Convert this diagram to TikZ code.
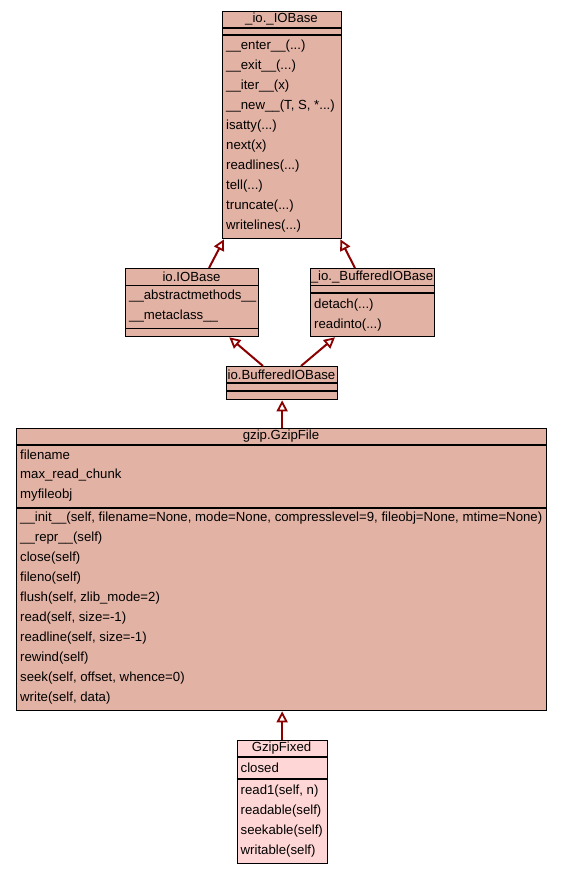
\documentclass[tikz,border=0pt]{standalone}
\usepackage{fontspec}
\setmainfont{Liberation Sans}
\usetikzlibrary{arrows.meta,calc}
\definecolor{clsfill}{RGB}{226,178,164}
\definecolor{fixfill}{RGB}{255,214,214}
\definecolor{arrowred}{RGB}{139,0,0}
\newcommand\mydots{...}
\begin{document}
\begin{tikzpicture}[x=1pt,y=-1pt,
  box/.style={draw=black, line width=1.3pt, fill=clsfill, inner sep=0, anchor=north west},
  txt/.style={anchor=west, inner sep=0, font=\fontsize{13.2}{15}\selectfont},
  ttl/.style={inner sep=0, font=\fontsize{13.2}{15}\selectfont},
  sep/.style={line width=1.3pt},
  inh/.style={draw=arrowred, line width=2pt, -{Triangle[open, length=11pt, width=11pt, line width=1.8pt]}}]
\useasboundingbox (0,0) rectangle (561,873);
\fill[white] (0,0) rectangle (561,873);
% _io._IOBase
\node[box, minimum width=119pt, minimum height=227pt] (iob) at (222,11) {};
\draw[sep] (222,28) -- (341,28);
\draw[sep] (222,35) -- (341,35);
\node[ttl] (iobt) at (281.5,19.5) {\_io.\_IOBase};
\foreach \t [count=\i] in {{\_\_enter\_\_(\mydots)}, {\_\_exit\_\_(\mydots)}, {\_\_iter\_\_(x)}, {\_\_new\_\_(T, S, *\mydots)}, {isatty(\mydots)}, {next(x)}, {readlines(\mydots)}, {tell(\mydots)}, {truncate(\mydots)}, {writelines(\mydots)}}
  \node[txt] (iobm\i) at (226,26+20*\i) {\t};
% io.IOBase
\node[box, minimum width=133pt, minimum height=68pt] (ioi) at (125,268) {};
\draw[sep] (125,285.5) -- (258,285.5);
\draw[sep] (125,328.5) -- (258,328.5);
\node[ttl] (ioit) at (191.5,277) {io.IOBase};
\node[txt] (ioia1) at (129,296.5) {\_\_abstractmethods\_\_};
\node[txt] (ioia2) at (129,316.5) {\_\_metaclass\_\_};
% _io._BufferedIOBase
\node[box, minimum width=124pt, minimum height=68pt] (bib) at (310,268) {};
\draw[sep] (310,285.5) -- (434,285.5);
\draw[sep] (310,293) -- (434,293);
\node[ttl] (bibt) at (372,277) {\_io.\_BufferedIOBase};
\node[txt] (bibm1) at (314,305) {detach(...)};
\node[txt] (bibm2) at (314,325) {readinto(...)};
% io.BufferedIOBase
\node[box, minimum width=111pt, minimum height=33pt] (iobb) at (226,366) {};
\draw[sep] (226,383) -- (337,383);
\draw[sep] (226,391) -- (337,391);
\node[ttl] (iobbt) at (281.5,374.5) {io.BufferedIOBase};
% gzip.GzipFile
\node[box, minimum width=530pt, minimum height=282pt] (gz) at (16,428) {};
\draw[sep] (16,445) -- (546,445);
\draw[sep] (16,508) -- (546,508);
\node[ttl] (gzt) at (281,436.5) {gzip.GzipFile};
\foreach \t [count=\i] in {{filename}, {max\_read\_chunk}, {myfileobj}}
  \node[txt] (gza\i) at (20,435+20*\i) {\t};
\foreach \t [count=\i] in {{\_\_init\_\_(self, filename=None, mode=None, compresslevel=9, fileobj=None, mtime=None)}, {\_\_repr\_\_(self)}, {close(self)}, {fileno(self)}, {flush(self, zlib\_mode=2)}, {read(self, size=-1)}, {readline(self, size=-1)}, {rewind(self)}, {seek(self, offset, whence=0)}, {write(self, data)}}
  \node[txt] (gzm\i) at (20,498+20*\i) {\t};
% GzipFixed
\node[box, fill=fixfill, minimum width=90pt, minimum height=123pt] (gf) at (236.5,740) {};
\draw[sep] (236.5,757) -- (326.5,757);
\draw[sep] (236.5,779) -- (326.5,779);
\node[ttl] (gft) at (281.5,748.5) {GzipFixed};
\node[txt] (gfa1) at (240.5,768) {closed};
\foreach \t [count=\i] in {{read1(self, n)}, {readable(self)}, {seekable(self)}, {writable(self)}}
  \node[txt] (gfm\i) at (240.5,771+20*\i) {\t};
% inheritance
\draw[inh] ($(ioi.north west)+(84,0)$) -- ($(iob.south west)+(2,0)$);
\draw[inh] ($(bib.north west)+(45,0)$) -- ($(iob.south east)+(-2,0)$);
\draw[inh] ($(iobb.north west)+(37,0)$) -- ($(ioi.south east)+(-30,0)$);
\draw[inh] ($(iobb.north west)+(75,0)$) -- ($(bib.south west)+(25,0)$);
\draw[inh] (gz.north -| iobb.south) -- (iobb.south);
\draw[inh] (gf.north) -- (gf.north |- gz.south);
\end{tikzpicture}
\end{document}
